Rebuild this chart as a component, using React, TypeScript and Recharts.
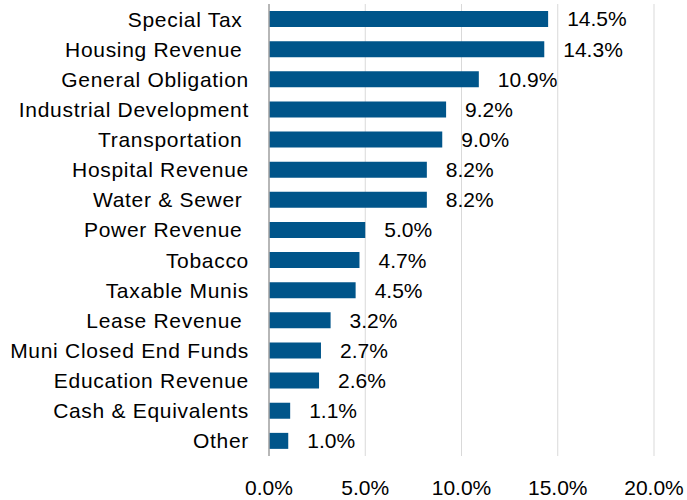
import React from 'react';
import { BarChart, Bar, XAxis, YAxis, CartesianGrid, LabelList } from 'recharts';

const categories = [
  'Special Tax ',
  'Housing Revenue ',
  'General Obligation',
  'Industrial Development',
  'Transportation ',
  'Hospital Revenue',
  'Water & Sewer ',
  'Power Revenue ',
  'Tobacco',
  'Taxable Munis',
  'Lease Revenue ',
  'Muni Closed End Funds',
  'Education Revenue',
  'Cash & Equivalents',
  'Other',
];
const values = [14.5, 14.3, 10.9, 9.2, 9.0, 8.2, 8.2, 5.0, 4.7, 4.5, 3.2, 2.7, 2.6, 1.1, 1.0];
const xTicks = [0, 5, 10, 15, 20];

const data = categories.map((name, i) => ({ name, value: values[i] }));

const FONT = '"Liberation Sans", Arial, sans-serif';

const YTick = (props: any) => {
  const { x, y, payload } = props;
  return (
    <text
      x={x}
      y={y}
      dy="0.355em"
      textAnchor="end"
      fontSize={21}
      fontFamily={FONT}
      fill="#000"
      letterSpacing={0.7}
      style={{ whiteSpace: 'pre' }}
    >
      {payload.value}
    </text>
  );
};

export default function App() {
  return (
    <div style={{ position: 'absolute', left: 0, top: 0, width: 687, height: 500, background: '#fff' }}>
      <BarChart
        width={687}
        height={500}
        data={data}
        layout="vertical"
        margin={{ top: 4, right: 33, left: 0, bottom: 0 }}
        barSize={16}
      >
        <CartesianGrid horizontal={false} stroke="#d9d9d9" strokeWidth={1} />
        <XAxis
          type="number"
          domain={[0, 20]}
          ticks={xTicks}
          tickFormatter={(v: number) => `${v.toFixed(1)}%`}
          axisLine={false}
          tickLine={false}
          tickMargin={18}
          height={44}
          tick={{ fontSize: 21, fontFamily: FONT, fill: '#000' }}
          interval={0}
        />
        <YAxis
          type="category"
          dataKey="name"
          width={269}
          axisLine={{ stroke: '#a6a6a6', strokeWidth: 1.5 }}
          tickLine={false}
          tickMargin={14}
          tick={<YTick />}
          interval={0}
        />
        <Bar dataKey="value" fill="#00558a" isAnimationActive={false}>
          <LabelList
            dataKey="value"
            position="right"
            offset={19}
            formatter={(v: number) => `${v.toFixed(1)}%`}
            style={{ fontSize: 21, fontFamily: FONT, fill: '#000' }}
          />
        </Bar>
      </BarChart>
    </div>
  );
}
